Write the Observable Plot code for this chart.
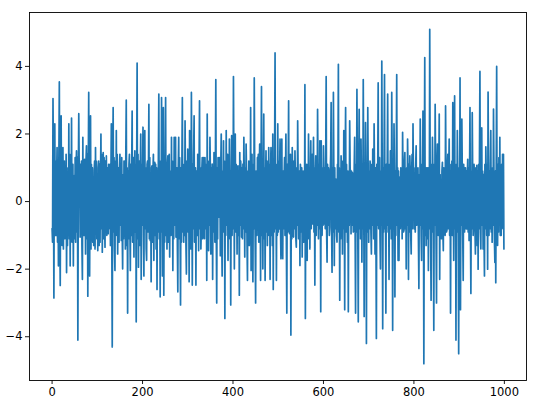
<!DOCTYPE html>
<html>
<head>
<meta charset="utf-8">
<script src="https://cdn.jsdelivr.net/npm/d3@7"></script>
<script src="https://cdn.jsdelivr.net/npm/@observablehq/plot@0.6"></script>
<style>
  html, body { margin: 0; padding: 0; background: #fff; }
  #chart svg { display: block; }
</style>
</head>
<body>
<div id="chart"></div>
<script>
// Series values (index 0..999)
const values = [
-0.8,-1.2,3.05,0.9,-2.85,1.4,2.3,-1.0,1.2,-1.0,0.7,1.6,-1.2,1.0,-1.9,1.3,3.54,-0.8,-2.48,1.1,
2.54,-0.9,-1.3,1.2,1.6,-1.4,0.8,1.2,-1.1,1.0,-0.7,1.4,-2.1,0.6,-1.3,1.0,-1.0,2.3,-1.1,1.4,
-1.9,1.1,-0.8,2.47,-1.2,0.9,1.1,-1.9,0.7,0.77,-1.1,1.3,-1.2,1.0,1.5,-0.9,1.3,-4.1,0.8,2.6,
0.9,1.1,-1.05,1.1,-0.8,1.2,-1.3,-2.3,1.9,-1.0,0.8,-1.0,1.25,0.7,-1.55,1.2,1.65,-1.1,1.4,-2.8,
1.0,3.23,-0.9,-2.2,1.3,2.54,-1.4,1.1,-1.15,1.0,-1.2,0.72,-1.3,0.9,1.2,-1.4,1.6,-0.7,1.2,-1.1,
0.8,-1.45,1.0,1.2,-1.3,1.1,-1.2,0.6,2.0,-0.8,1.4,-1.5,0.7,1.45,-1.1,1.3,-0.6,-1.35,1.2,-0.9,
1.35,-1.0,0.9,1.0,-0.95,1.1,-0.8,-0.07,1.1,-1.3,0.7,2.3,-1.1,-4.3,1.0,2.78,-0.9,1.3,-1.4,-2.04,
1.2,-0.8,2.1,-1.0,1.4,-1.55,0.8,1.0,-1.2,1.0,1.4,-0.7,1.1,-1.15,1.3,-0.9,-1.99,0.8,-1.1,1.2,
-1.0,1.2,-1.4,1.4,3.0,-1.3,1.0,-3.3,0.9,-1.1,1.1,1.4,-0.8,-2.04,1.1,-1.0,1.0,2.68,-1.2,0.8,
1.3,-1.64,0.7,1.5,-0.9,1.1,-3.56,1.0,4.1,-1.1,1.4,-1.94,0.8,1.2,-1.3,0.9,2.0,-2.3,1.1,-0.7,
0.9,2.2,-1.0,-2.2,1.2,2.1,-0.8,1.0,-1.4,-1.74,1.1,1.2,-0.9,0.8,2.88,-1.1,1.3,-1.15,0.7,-2.37,
1.0,1.06,-1.2,0.9,1.4,-1.74,0.6,1.16,-1.0,1.1,-1.4,1.0,-2.6,0.8,-0.9,1.3,3.18,-1.1,1.0,-2.82,
1.2,-0.9,3.08,0.7,-2.2,1.1,2.78,-2.77,0.9,-1.2,1.3,3.08,-1.0,0.8,-1.4,1.1,1.35,-1.2,0.7,1.4,
-1.64,0.9,0.86,-1.0,1.9,-0.8,1.2,-2.04,1.0,-1.1,1.9,-0.7,0.8,1.9,-1.05,0.9,1.0,-1.3,-2.67,1.0,
1.9,-1.1,1.3,-0.7,-3.06,1.0,-1.2,1.1,3.08,-0.9,1.1,-1.2,0.8,-1.0,2.39,0.6,-1.3,-2.14,1.2,-0.8,
1.55,-0.9,1.0,-2.37,2.1,-1.1,0.9,-1.4,3.23,0.7,-2.47,1.1,-0.8,1.4,2.54,-1.2,0.8,1.0,-2.47,0.9,
0.72,-1.0,1.4,0.6,-1.45,1.1,2.98,-0.8,1.0,-1.4,-0.76,0.9,1.3,-1.1,-0.02,1.3,-0.9,-1.1,1.3,0.57,
-0.8,1.1,-2.33,2.59,-1.0,1.2,-1.45,0.8,-0.7,1.9,0.9,-1.55,1.0,-1.1,1.11,-2.3,0.7,-0.9,1.45,1.1,
-1.2,0.9,3.61,-0.8,-3.0,1.0,-1.1,1.3,0.7,-0.46,1.3,0.8,-1.6,1.1,2.0,-1.0,-2.2,0.9,-0.8,1.8,
-0.9,1.2,-3.46,0.8,-1.0,2.1,-0.7,1.1,1.4,-1.74,1.0,-0.8,1.85,-1.1,0.9,-3.06,0.7,1.95,-1.0,1.2,
-0.8,3.7,0.7,-1.99,1.0,2.0,-0.9,1.1,0.6,-1.55,0.8,1.06,-1.0,0.9,-2.77,1.45,-0.7,1.2,0.8,-1.05,
1.0,-1.1,1.11,-0.8,1.9,0.7,-1.64,1.0,-0.9,1.7,0.8,-1.2,-2.33,0.9,-0.7,1.2,-1.3,1.1,-0.8,2.78,
-2.04,1.0,1.4,-0.9,-2.37,1.1,-0.8,3.66,0.7,-1.1,-3.0,0.9,0.47,-1.0,1.3,-0.7,1.4,-1.2,0.8,1.7,
0.7,-2.33,1.1,3.4,-1.0,0.9,-1.99,0.8,2.59,-1.1,1.0,-2.33,0.6,1.5,-0.9,1.2,-1.3,0.7,-1.0,1.6,
-0.8,1.1,-2.3,0.9,1.6,-1.0,1.2,-1.3,2.0,-2.6,1.0,-0.9,1.4,4.4,-0.8,1.1,-2.33,0.7,-1.0,2.3,
-0.9,1.2,-0.81,0.8,1.85,-0.7,-1.69,1.0,1.85,-1.1,-1.69,0.9,-0.8,0.7,1.3,-1.0,0.8,2.0,-1.2,-3.3,
1.1,-0.9,0.8,2.98,-0.7,-0.95,1.0,1.4,-3.95,0.9,-1.1,1.6,0.7,-1.0,-1.05,1.2,-0.8,1.5,0.6,-1.1,
-1.35,1.0,-0.7,2.39,0.8,-1.1,-0.95,0.9,-1.89,1.1,0.8,-0.9,1.0,-1.64,0.7,0.9,-1.2,0.8,-1.0,3.46,
-3.46,0.9,-0.8,1.1,-1.74,1.0,-0.7,2.0,-1.1,0.8,-1.4,0.9,1.8,-0.8,1.0,1.4,-0.66,0.7,1.9,-0.9,
1.0,-2.47,0.8,1.35,-1.0,1.1,-0.7,2.73,0.9,-1.1,1.1,-0.8,1.8,0.7,-3.26,1.8,-0.9,-1.0,1.0,-0.7,
1.65,0.8,-0.66,1.0,-0.8,1.3,3.7,-0.9,-1.79,1.1,-0.7,1.0,0.8,-1.0,-0.76,0.9,1.4,2.93,-0.8,-2.09,
1.0,-0.9,3.23,0.7,-1.89,1.0,-0.8,0.67,0.6,-1.0,-1.2,1.1,0.8,4.06,-0.9,1.0,-2.92,0.8,-1.1,1.35,
0.7,1.2,-1.55,0.9,-0.8,2.1,0.7,-3.2,1.0,2.78,-0.9,1.1,0.15,-1.2,0.9,-3.26,0.8,-0.7,2.39,1.0,
0.8,-0.95,0.9,-0.7,0.86,0.7,-0.9,-0.85,1.0,1.9,-0.8,-3.3,1.1,-0.9,3.32,0.8,-1.1,-3.56,1.0,2.73,
-0.8,1.0,-1.1,1.85,0.7,-1.79,0.9,-0.8,3.61,0.6,-3.4,1.1,-0.7,2.34,0.8,-4.2,1.0,-0.9,2.78,0.7,
-1.2,0.9,-0.8,1.2,1.0,-0.9,-1.55,1.1,-0.7,1.55,0.8,-1.1,2.3,0.6,-1.55,1.0,-0.8,-4.05,1.1,-0.7,
0.9,3.51,-0.8,0.36,1.3,-1.0,-1.99,0.9,-0.7,4.16,0.8,-3.76,1.0,-0.9,1.2,3.76,-0.8,0.9,-3.3,1.1,
-0.7,1.0,3.18,-0.9,0.8,-2.3,1.1,-0.8,1.5,0.7,-1.1,3.23,0.9,-3.81,1.0,-0.8,2.3,0.7,-2.82,0.9,
-1.0,1.1,3.76,-0.7,1.0,-1.74,0.9,-1.74,0.7,0.72,-0.8,1.0,-0.46,0.8,-1.1,2.05,0.7,-0.9,-0.85,1.1,
1.45,-0.8,0.9,-1.99,1.0,-0.7,1.85,0.8,-2.3,1.1,-0.9,1.35,0.7,-1.0,-1.55,0.9,1.4,-0.8,2.3,0.6,
1.0,-0.81,0.8,-0.9,1.1,1.65,-0.7,0.9,-0.17,1.0,-1.1,-2.57,0.8,-0.7,2.44,0.9,-1.0,-1.74,1.1,-0.8,
2.68,0.8,-4.8,0.9,4.26,-1.0,0.8,-1.3,1.0,0.7,-1.1,1.0,-2.04,0.9,-0.8,5.1,0.7,-1.0,-2.92,1.1,
-0.9,1.9,0.8,-1.0,-3.81,1.1,-0.7,2.88,0.9,-1.1,-3.0,1.0,1.7,-0.8,-1.0,0.9,2.59,-2.3,0.8,-0.9,
0.36,-1.1,0.9,1.16,-0.8,-1.45,1.0,-0.7,0.57,-1.0,2.83,0.7,-0.9,-0.85,1.0,1.4,-0.8,0.9,1.85,-1.0,
1.1,-3.3,0.9,-0.8,1.2,-1.0,2.93,0.7,-1.74,0.9,3.13,-0.8,1.0,-4.1,1.1,-0.9,2.1,0.8,-1.1,-4.5,
1.0,-0.8,3.66,-3.2,0.9,-0.7,2.44,0.8,-1.0,-2.33,1.1,0.6,-0.9,1.0,1.0,-0.8,0.9,-0.81,0.7,1.25,
-0.9,1.0,-1.15,0.8,2.78,-0.7,-2.72,0.9,-0.8,2.63,0.7,-1.0,-0.61,1.1,0.42,-0.8,-1.55,1.0,-0.7,1.07,
-1.3,0.9,-2.0,1.1,-0.8,1.4,3.85,-0.9,-1.4,1.0,2.18,-0.7,0.9,-1.4,0.8,-1.0,-2.2,1.1,-0.8,1.62,
0.7,-1.0,1.1,-2.0,3.24,0.8,-1.0,0.9,-0.8,1.1,2.1,-0.9,0.8,-1.2,1.0,-0.7,2.74,0.8,-1.1,-1.8,
0.9,-2.4,1.0,4.0,-0.8,-1.3,1.1,-0.9,1.3,-0.7,1.9,-1.0,0.8,-1.0,1.1,-0.8,1.4,0.7,1.4,-1.4
];
const xTicks = [0, 200, 400, 600, 800, 1000];
const yTicks = [-4, -2, 0, 2, 4];

const fmt = d => (d < 0 ? "\u2212" + Math.abs(d) : String(d));

const chart = Plot.plot({
  width: 533,
  height: 406,
  marginLeft: 29,
  marginRight: 7,
  marginTop: 12,
  marginBottom: 26,
  style: { fontFamily: "DejaVu Sans", fontSize: "11.5px", background: "#fff", color: "#000" },
  x: { domain: [-49.95, 1048.95] },
  y: { domain: [-5.295, 5.595] },
  marks: [
    Plot.lineY(values, { x: (d, i) => i, y: d => d, stroke: "#1f77b4", strokeWidth: 1.7 }),
    Plot.frame({ stroke: "#000", strokeWidth: 0.9 }),
    Plot.axisX({ ticks: xTicks, tickFormat: fmt, tickSize: 4, tickPadding: 3, label: null, fontSize: 11.5, strokeWidth: 0.9 }),
    Plot.axisY({ ticks: yTicks, tickFormat: fmt, tickSize: 4, tickPadding: 3, label: null, fontSize: 11.5, strokeWidth: 0.9 })
  ]
});
document.getElementById("chart").appendChild(chart);
</script>
</body>
</html>
